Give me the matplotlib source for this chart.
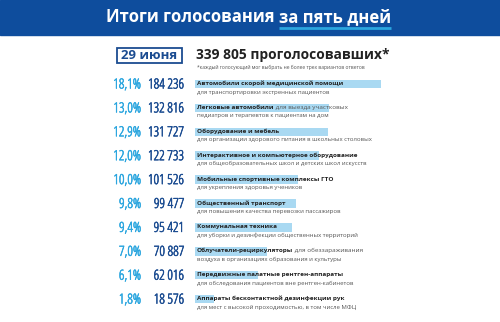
import matplotlib
matplotlib.use("Agg")
import matplotlib.pyplot as plt
import matplotlib.patheffects as pe
from matplotlib.patches import Rectangle

# data
percents = [18.1, 13.0, 12.9, 12.0, 10.0, 9.8, 9.4, 7.0, 6.1, 1.8]
pct_labels = ["18,1%", "13,0%", "12,9%", "12,0%", "10,0%", "9,8%", "9,4%", "7,0%", "6,1%", "1,8%"]
votes = ["184 236", "132 816", "131 727", "122 733", "101 526", "99 477", "95 421", "70 887", "62 016", "18 576"]
titles = [
    "Автомобили скорой медицинской помощи",
    "Легковые автомобили",
    "Оборудование и мебель",
    "Интерактивное и компьютерное оборудование",
    "Мобильные спортивные комплексы ГТО",
    "Общественный транспорт",
    "Коммунальная техника",
    "Облучатели-рециркуляторы",
    "Передвижные палатные рентген-аппараты",
    "Аппараты бесконтактной дезинфекции рук",
]
title_tails = ["", " для выезда участковых", "", "", "", "", "", " для обеззараживания", "", ""]
subtitles = [
    "для транспортировки экстренных пациентов",
    "педиатров и терапевтов к пациентам на дом",
    "для организации здорового питания в школьных столовых",
    "для общеобразовательных школ и детских школ искусств",
    "для укрепления здоровья учеников",
    "для повышения качества перевозки пассажиров",
    "для уборки и дезинфекции общественных территорий",
    "воздуха в организациях образования и культуры",
    "для обследования пациентов вне рентген-кабинетов",
    "для мест с высокой проходимостью, в том числе МФЦ",
]

HEADER = "#0e4d9d"
LIGHT = "#2ba6df"
DARK = "#1b4c91"
BAR = "#a9d9f2"
GRAY = "#555555"

fig = plt.figure(figsize=(5, 3.22), dpi=100)
ax = fig.add_axes([0, 0, 1, 1])
ax.set_xlim(0, 500)
ax.set_ylim(322, 0)
ax.axis("off")

# header band
ax.add_patch(Rectangle((0, 0), 500, 35, color=HEADER, zorder=0))
t1 = ax.text(106, 17, "Итоги голосования ", color="white", fontsize=12,
             fontweight="bold", family="Open Sans", va="center", ha="left")
fig.canvas.draw()
r = fig.canvas.get_renderer()
bb = t1.get_window_extent(r).transformed(ax.transData.inverted())
t2 = ax.text(bb.x1, 17, "за пять дней", color="white", fontsize=12,
             fontweight="bold", family="Open Sans", va="center", ha="left")
bb2 = t2.get_window_extent(r).transformed(ax.transData.inverted())
ax.plot([bb.x1, bb2.x1], [27.5, 27.5], color=LIGHT, lw=2, solid_capstyle="butt")

# date box
ax.add_patch(Rectangle((117, 48), 65, 15, fill=False, ec=DARK, lw=1.3))
ax.text(149.5, 55.5, "29 июня", color=DARK, fontsize=9.5, fontweight="bold",
        family="Open Sans", ha="center", va="center")
ax.text(196, 55, "339 805 проголосовавших*", color="#222222", fontsize=9.9,
        fontweight="bold", family="Open Sans", ha="left", va="center")
ax.text(197, 67.5, "*каждый голосующий мог выбрать не более трех вариантов ответов",
        color=GRAY, fontsize=3.6, family="Open Sans", ha="left", va="center")

rows = [85 + 23.9 * i for i in range(len(percents))]
scale = 10.3

ax.barh([y - 1 for y in rows], [p * scale for p in percents], height=8.5,
        left=195, color=BAR, zorder=1)

for i, y in enumerate(rows):
    ax.text(141, y, pct_labels[i], color=LIGHT, fontsize=10,
            family="Open Sans", stretch="condensed", weight="light",
            ha="right", va="center",
            path_effects=[pe.withStroke(linewidth=0.4, foreground=LIGHT)])
    ax.text(184, y, votes[i], color=DARK, fontsize=10,
            family="Open Sans", stretch="condensed", weight="light",
            ha="right", va="center",
            path_effects=[pe.withStroke(linewidth=0.4, foreground=DARK)])
    tt = ax.text(197, y - 1.5, titles[i], color="#222222", fontsize=4.6,
                 fontweight="bold", family="Open Sans",
                 ha="left", va="center", zorder=2)
    if title_tails[i]:
        tb = tt.get_window_extent(r).transformed(ax.transData.inverted())
        ax.text(tb.x1, y - 1.5, title_tails[i], color=GRAY, fontsize=4.6,
                family="Open Sans", ha="left", va="center", zorder=2)
    ax.text(197, y + 7, subtitles[i], color=GRAY, fontsize=4.3,
            family="Open Sans", ha="left", va="center", zorder=2)

fig.savefig("out.png", dpi=100, facecolor="white")
